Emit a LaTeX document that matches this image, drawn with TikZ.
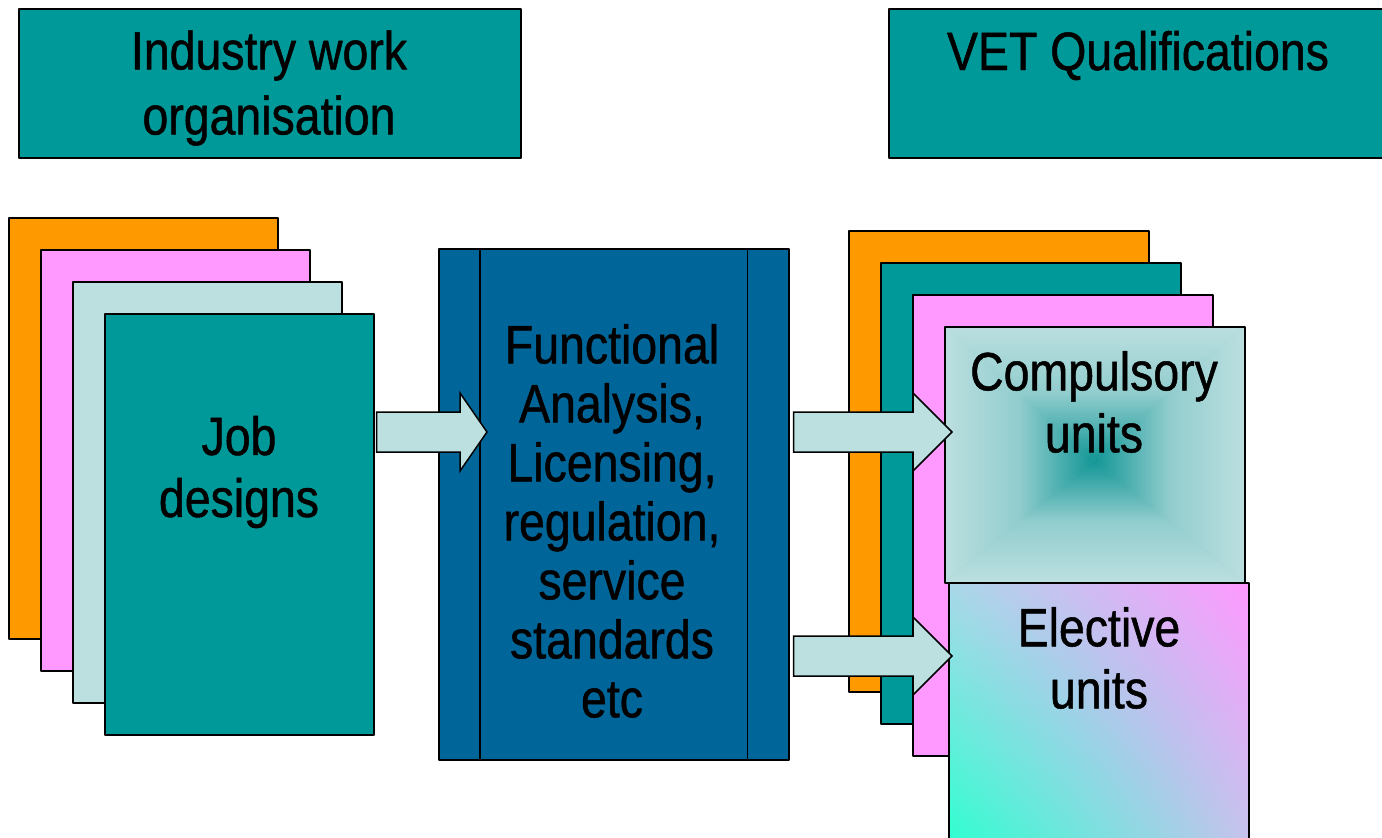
\documentclass[tikz,border=0pt]{standalone}
\usepackage{fontspec}
\setmainfont{Liberation Sans}[FakeStretch=0.86,FakeBold=0.9]
\usetikzlibrary{calc,shadings}
\definecolor{tealbox}{HTML}{009999}
\definecolor{orangecard}{HTML}{FF9900}
\definecolor{pinkcard}{HTML}{FF99FF}
\definecolor{palecard}{HTML}{BCDFE0}
\definecolor{fablue}{HTML}{006699}
\definecolor{deepteal}{HTML}{129696}
\definecolor{aquacard}{HTML}{2EFFD0}
\definecolor{mistcard}{HTML}{AAD8E8}
\definecolor{lilaccard}{HTML}{C4C4EC}
\tikzset{
  card/.style={draw=black, line width=1.5pt, anchor=north west, inner sep=0pt},
  lbl/.style={font=\fontsize{54}{62}\selectfont, align=center, inner sep=0pt},
  fatarrow/.style={draw=black, line width=1.5pt, fill=palecard, line join=miter}
}
% block arrow: #1 tail, #2 tip, #3 head length
\newcommand\fatarrow[3]{%
  \draw[fatarrow] (#2) -- ([shift={(-#3,-39)}]#2) -- ([shift={(-#3,-20)}]#2)
    -- ([shift={(0,-20)}]#1) -- ([shift={(0,20)}]#1)
    -- ([shift={(-#3,20)}]#2) -- ([shift={(-#3,39)}]#2) -- cycle;}
\begin{document}
\begin{tikzpicture}[x=1pt, y=-1pt, line join=round]
  \useasboundingbox (0,0) rectangle (1382,838);
  \clip (0,0) rectangle (1382,838);
  % headings
  \node[card, fill=tealbox, minimum width=502, minimum height=149] (iwo) at (18,8) {};
  \node[lbl, font=\fontsize{54}{65}\selectfont] (iwotext) at (269,88) {Industry work\\organisation};
  \node[card, fill=tealbox, minimum width=520, minimum height=149] (vet) at (888,8) {};
  \node[lbl, anchor=base] (vettext) at (1138,70) {VET Qualifications};
  % job cards
  \node[card, fill=orangecard, minimum width=269, minimum height=421] (jobA) at (8,217) {};
  \node[card, fill=pinkcard, minimum width=269, minimum height=421] (jobB) at (40,249) {};
  \node[card, fill=palecard, minimum width=269, minimum height=421] (jobC) at (72,281) {};
  \node[card, fill=tealbox, minimum width=269, minimum height=421] (jobD) at (104,313) {};
  \node[lbl] (jobtext) at (239,472) {Job\\designs};
  % functional analysis
  \node[card, fill=fablue, minimum width=350, minimum height=511] (fa) at (438,248) {};
  \draw[line width=1.5pt]
    ([xshift=42pt]fa.north west) -- ([xshift=42pt]fa.south west)
    ([xshift=-42pt]fa.north east) -- ([xshift=-42pt]fa.south east);
  \node[lbl, font=\fontsize{54}{59}\selectfont] (fatext) at (612,521)
    {Functional\\Analysis,\\Licensing,\\regulation,\\service\\standards\\etc};
  % qualification cards
  \node[card, fill=orangecard, minimum width=300, minimum height=461] (qualA) at (848,230) {};
  \node[card, fill=tealbox, minimum width=300, minimum height=461] (qualB) at (880,262) {};
  \node[card, fill=pinkcard, minimum width=300, minimum height=461] (qualC) at (912,294) {};
  \coordinate (cNW) at (944,326);
  \coordinate (cNE) at (1244,326);
  \coordinate (cSW) at (944,582);
  \coordinate (cSE) at (1244,582);
  \coordinate (cC) at (1094,460);
  \fill[palecard!70!deepteal] (cNW) rectangle (cSE);
  \shade[top color=palecard, bottom color=deepteal, middle color=palecard!75!deepteal] (cNW) -- (cNE) -- (cC) -- cycle;
  \shade[top color=deepteal, bottom color=palecard, middle color=palecard!75!deepteal] (cSW) -- (cSE) -- (cC) -- cycle;
  \shade[left color=palecard, right color=deepteal, middle color=palecard!75!deepteal] (cNW) -- (cSW) -- (cC) -- cycle;
  \shade[left color=deepteal, right color=palecard, middle color=palecard!75!deepteal] (cNE) -- (cSE) -- (cC) -- cycle;
  \node[card, minimum width=300, minimum height=256] (comp) at (cNW) {};
  \node[lbl] (comptext) at (1094,402) {Compulsory\\units};
  \node[card, shade, upper left=mistcard, upper right=pinkcard, lower left=aquacard,
    lower right=lilaccard, minimum width=300, minimum height=263] (elec) at (948,582) {};
  \node[lbl] (electext) at (1099,658) {Elective\\units};
  % arrows
  \coordinate (tipA) at (487,432);
  \coordinate (tailA) at ($(jobD.east |- tipA)+(2,0)$);
  \coordinate (tipB) at (952,432);
  \coordinate (tailB) at ($(fa.east |- tipB)+(4,0)$);
  \coordinate (tipC) at (952,656);
  \coordinate (tailC) at ($(fa.east |- tipC)+(4,0)$);
  \fatarrow{tailA}{tipA}{27}
  \fatarrow{tailB}{tipB}{39}
  \fatarrow{tailC}{tipC}{39}
\end{tikzpicture}
\end{document}
